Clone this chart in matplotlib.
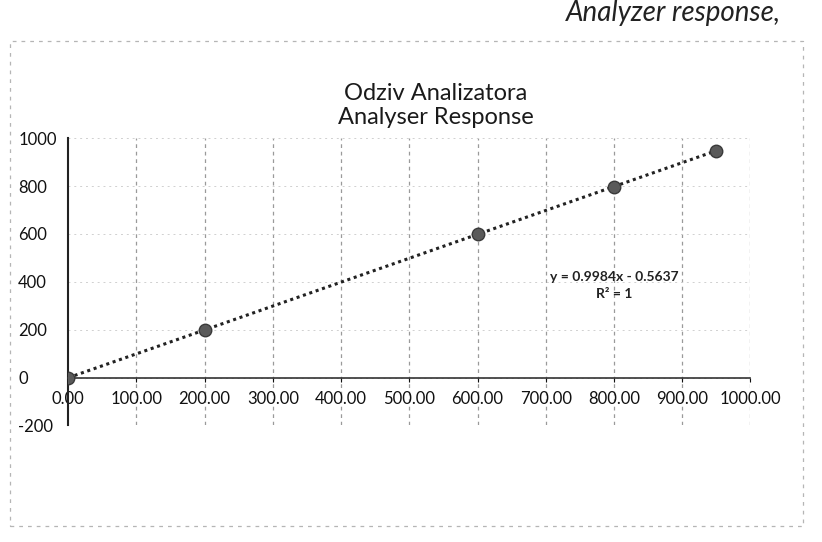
import matplotlib
matplotlib.use("Agg")
import matplotlib.pyplot as plt
from matplotlib.patches import Rectangle
import numpy as np

# Calibration data (reference value vs analyser reading)
x_ref = [0.0, 200.0, 600.0, 800.0, 950.0]
y_resp = [0.0, 199.1, 598.5, 798.2, 948.0]

# Trendline as printed on the chart
slope = 0.9984
intercept = -0.5637
eq_label = "y = 0.9984x - 0.5637"
r2_label = "R² = 1"

x_ticks = [0, 100, 200, 300, 400, 500, 600, 700, 800, 900, 1000]
y_ticks = [-200, 0, 200, 400, 600, 800, 1000]

plt.rcParams["font.family"] = ["Lato", "DejaVu Sans"]

fig = plt.figure(figsize=(8.22, 5.42), dpi=100)
ax = fig.add_axes([0.083, 0.215, 0.83, 0.53])

# light gridlines
for xv in x_ticks[1:]:
    ax.axvline(xv, color="#9a9a9a", lw=0.9, ls=(0, (3, 3)), zorder=0)
for yv in y_ticks:
    ax.axhline(yv, color="#d0d0d0", lw=0.7, ls=(0, (2, 4)), zorder=0)

# trendline
xt = np.array([x_ticks[0], x_ref[-1]], dtype=float)
ax.plot(xt, slope * xt + intercept, color="#222222", lw=2.2, ls=(0, (1, 1.2)), zorder=2)

ax.plot(x_ref, y_resp, "o", color="#5a5a5a", markersize=9,
        markeredgecolor="#3a3a3a", zorder=3)

ax.set_xlim(0, 1000)
ax.set_ylim(-200, 1000)
ax.set_xticks(x_ticks)
ax.set_xticklabels([f"{v:.2f}" for v in x_ticks])
ax.set_yticks(y_ticks)
ax.set_yticklabels([str(v) for v in y_ticks])

ax.spines["top"].set_visible(False)
ax.spines["right"].set_visible(False)
ax.spines["bottom"].set_position(("data", 0))
ax.spines["bottom"].set_color("#333333")
ax.spines["bottom"].set_linewidth(1.2)
ax.spines["left"].set_color("#222222")
ax.spines["left"].set_linewidth(1.5)
ax.tick_params(axis="x", length=3, labelsize=12, pad=7, colors="#111111")
ax.tick_params(axis="y", length=0, labelsize=12, colors="#111111")
for lbl in ax.get_yticklabels():
    lbl.set_horizontalalignment("left")
ax.yaxis.set_tick_params(pad=36)

ax.text(800, 420, eq_label, ha="center", va="center", fontsize=10,
        fontweight="bold", color="#222222")
ax.text(800, 350, r2_label, ha="center", va="center", fontsize=10,
        fontweight="bold", color="#222222")

fig.text(0.53, 0.805, "Odziv Analizatora\nAnalyser Response", ha="center",
         va="center", fontsize=17, color="#1a1a1a", linespacing=1.15)

# caption of the scanned page, cut at the top edge
fig.text(0.95, 0.962, "Analyzer response,", ha="right", va="baseline",
         fontsize=20, style="italic", color="#222222")

# chart area border
fig.patches.append(Rectangle((0.012, 0.03), 0.965, 0.895, transform=fig.transFigure,
                             fill=False, ec="#b5b5b5", lw=0.9, ls=(0, (3, 4))))

fig.savefig("out.png", dpi=100, facecolor="white")
